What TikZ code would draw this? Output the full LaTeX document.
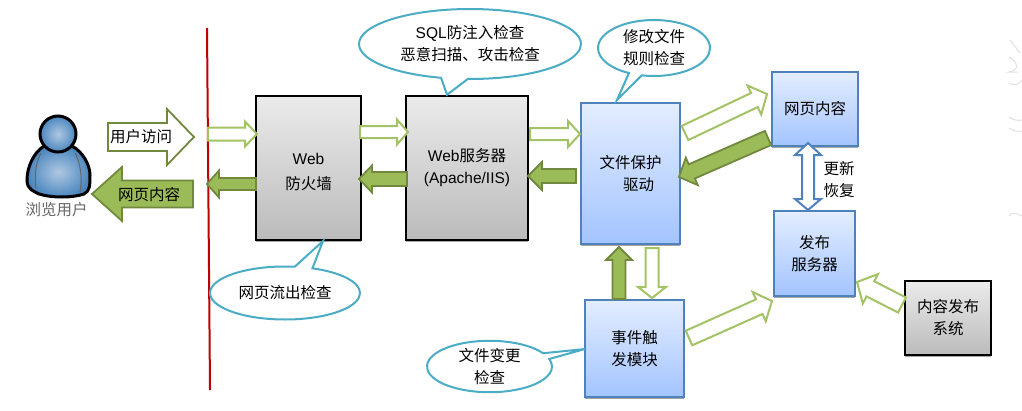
\documentclass[tikz,border=0pt]{standalone}
\usepackage{fontspec}
\setmainfont{Noto Sans CJK SC}
\newfontfamily\latn{Liberation Sans}
\usetikzlibrary{calc,shadows,shapes.callouts}
\definecolor{hollowline}{HTML}{A4C266}
\definecolor{solidfill}{HTML}{9BBB59}
\definecolor{solidline}{HTML}{71893F}
\definecolor{blueline}{HTML}{4F81BD}
\definecolor{calloutline}{HTML}{4BACC6}
\definecolor{graytop}{HTML}{EBEBEB}
\definecolor{graybot}{HTML}{BBBBBB}
\definecolor{bluetop}{HTML}{E3EDFF}
\definecolor{bluebot}{HTML}{A3C4FF}
\definecolor{skinin}{HTML}{AFC8E2}
\definecolor{skinout}{HTML}{4A86BE}
\tikzset{
  basebox/.style={draw, align=center, inner sep=0pt,
    drop shadow={shadow xshift=0pt, shadow yshift=-2pt, fill=black!35, opacity=1}},
  graybox/.style={basebox, line width=2.5pt, draw=black, top color=graytop, bottom color=graybot},
  bluebox/.style={basebox, line width=2.2pt, draw=blueline, top color=bluetop, bottom color=bluebot},
  bubble/.style={ellipse callout, draw=calloutline, line width=2pt, fill=white, align=center,
    inner sep=0pt, callout pointer arc=14},
  hollow/.style={draw=hollowline, line width=2pt, fill=white},
  solid/.style={draw=solidline, line width=1.8pt, fill=solidfill},
  skin/.style={inner color=skinin, outer color=skinout, draw=black, line width=3pt},
}
% style, from, to, half width, half head width, head length
\newcommand{\blockarrow}[6]{%
  \coordinate (h) at ($(#3)!#6pt!(#2)$);
  \draw[#1] ($(#2)!#4pt!90:(#3)$) -- ($(h)!#4pt!90:(#3)$) -- ($(h)!#5pt!90:(#3)$) -- (#3)
    -- ($(h)!#5pt!-90:(#3)$) -- ($(h)!#4pt!-90:(#3)$) -- ($(#2)!#4pt!-90:(#3)$) -- cycle;
}
\begin{document}
\begin{tikzpicture}[x=1pt, y=-1pt, every node/.append style={font=\fontsize{15.5}{22}\selectfont}]
  \useasboundingbox (0,0) rectangle (1022,410);

  % Boxes
  \node[graybox, minimum width=105pt, minimum height=144pt] (firewall) at (308.5,168) {\rule{0pt}{20pt}{\latn Web}\\[3pt]防火墙};
  \node[graybox, minimum width=122pt, minimum height=144pt] (webserver) at (467,168) {{\latn Web}服务器\\{\latn (Apache/IIS)}};
  \node[bluebox, minimum width=99pt, minimum height=141pt] (driver) at (630.5,173.5) {文件保护\\\hspace*{16pt}驱动};
  \node[bluebox, minimum width=86pt, minimum height=74pt] (content) at (815,109) {网页内容};
  \node[bluebox, minimum width=81pt, minimum height=85pt] (publish) at (814.5,253.5) {发布\\服务器};
  \node[graybox, minimum width=86pt, minimum height=74pt] (cms) at (948,318) {内容发布\\系统};
  \node[bluebox, minimum width=99pt, minimum height=97pt] (event) at (634.5,348.5) {事件触\\发模块};

  % Border
  \coordinate (bordertop) at (207,28);
  \coordinate (borderend) at (210,390);
  \draw[line width=2pt, red!75!black] (bordertop) -- (borderend);

  % User
  \fill[skin]
    (44,146) .. controls (33,153) and (27,168) .. (27,180) .. controls (27,190) and (34,191) .. (39,194)
    .. controls (52,198) and (72,198) .. (84,194) .. controls (90,191) and (90,185) .. (90,175)
    .. controls (90,165) and (83,152) .. (72,146) -- cycle;
  \draw[black!60, line width=1pt] (41,153) .. controls (36,162) and (34,175) .. (36,188);
  \draw[black!60, line width=1pt] (75,153) .. controls (80,162) and (83,178) .. (80,192);
  \filldraw[skin] (58,134) circle (18);
  \node[text=black!60] (userlabel) at (56.5,210) {浏览用户};

  % Arrows
  \coordinate (in0s) at (108,137);   \coordinate (in0e) at (194,137);
  \coordinate (out0s) at (193,194);  \coordinate (out0e) at (92,194);
  \coordinate (in1s) at (208,134);   \coordinate (in1e) at (257,134);
  \coordinate (out1s) at (256,184);  \coordinate (out1e) at (207,184);
  \coordinate (in2s) at (360,132);   \coordinate (in2e) at (408,132);
  \coordinate (out2s) at (407,179);  \coordinate (out2e) at (359,179);
  \coordinate (in3s) at (530,134);   \coordinate (in3e) at (580,134);
  \coordinate (out3s) at (576,176);  \coordinate (out3e) at (528,176);
  \coordinate (in4s) at (685,133);   \coordinate (in4e) at (767,94);
  \coordinate (out4s) at (768,138);  \coordinate (out4e) at (679,177);
  \coordinate (upds) at (689,338);   \coordinate (upde) at (772,301);
  \coordinate (cmss) at (902,305);   \coordinate (cmse) at (857,282);
  \coordinate (evus) at (619,299);   \coordinate (evue) at (619,247);
  \coordinate (evds) at (652,248);   \coordinate (evde) at (652,298);

  \blockarrow{draw=solidline, line width=1.8pt, fill=white}{in0s}{in0e}{14}{28}{27}
  \blockarrow{solid}{out0s}{out0e}{13.5}{27}{30}
  \blockarrow{hollow}{in1s}{in1e}{6.5}{12.5}{12}
  \blockarrow{solid}{out1s}{out1e}{6}{13.5}{12}
  \blockarrow{hollow}{in2s}{in2e}{6}{12.5}{11}
  \blockarrow{solid}{out2s}{out2e}{7}{13.5}{13}
  \blockarrow{hollow}{in3s}{in3e}{6}{13}{12}
  \blockarrow{solid}{out3s}{out3e}{7}{14}{14}
  \blockarrow{hollow}{in4s}{in4e}{7.8}{16}{14}
  \blockarrow{solid}{out4s}{out4e}{7.7}{15}{14}
  \blockarrow{hollow}{upds}{upde}{8}{16}{14}
  \blockarrow{hollow}{cmss}{cmse}{8.5}{16.5}{15}
  \blockarrow{solid}{evus}{evue}{6.5}{13}{13}
  \blockarrow{hollow}{evds}{evde}{6.5}{14}{11}

  % Two-way arrow between content and publish
  \coordinate (synct) at (808,143);
  \coordinate (syncb) at (808,210);
  \draw[draw=blueline, line width=2pt, fill=white] (synct) -- ($(synct)+(13,12)$) -- ($(synct)+(6,12)$)
    -- ($(syncb)+(6,-11)$) -- ($(syncb)+(13,-11)$) -- (syncb) -- ($(syncb)+(-13,-11)$)
    -- ($(syncb)+(-6,-11)$) -- ($(synct)+(-6,12)$) -- ($(synct)+(-13,12)$) -- cycle;

  % Labels
  \node (visit) at (141,137) {用户访问};
  \node (pages) at (149,195) {网页内容};
  \node[align=center] (syncnote) at (839,179.5) {更新\\恢复};

  % Callouts
  \node[bubble, minimum width=222pt, minimum height=70pt, callout absolute pointer={(webserver.north)+(-20,0)}] (sqlnote) at (470,44) {{\latn SQL}防注入检查\\恶意扫描、攻击检查};
  \node[bubble, minimum width=112pt, minimum height=56pt, callout absolute pointer={(617,100)}] (filenote) at (654,48) {修改文件\\规则检查};
  \node[bubble, minimum width=150pt, minimum height=53pt, callout absolute pointer={(323,241)}] (leaknote) at (285,293) {网页流出检查};
  \node[bubble, minimum width=125pt, minimum height=47pt, callout absolute pointer={(585,349)}] (changenote) at (489.5,366.5) {文件变更\\检查};

  % Faint marks on the right edge
  \draw[black!12, line width=1pt] (1010,40) -- (1020,53);
  \draw[black!12, line width=1pt] (1009,57) .. controls (1018,62) and (1020,70) .. (1009,72) -- (1018,72);
  \draw[black!12, line width=1pt] (1009,83) .. controls (1014,86) and (1018,85) .. (1022,80);
  \draw[black!12, line width=1pt] (1009,117) .. controls (1013,120) and (1018,121) .. (1022,120);
  \draw[black!12, line width=1pt] (1009,128) .. controls (1013,131) and (1018,132) .. (1022,131);
  \draw[black!12, line width=1pt] (1009,216) .. controls (1011,212) and (1017,213) .. (1022,216);
\end{tikzpicture}
\end{document}
